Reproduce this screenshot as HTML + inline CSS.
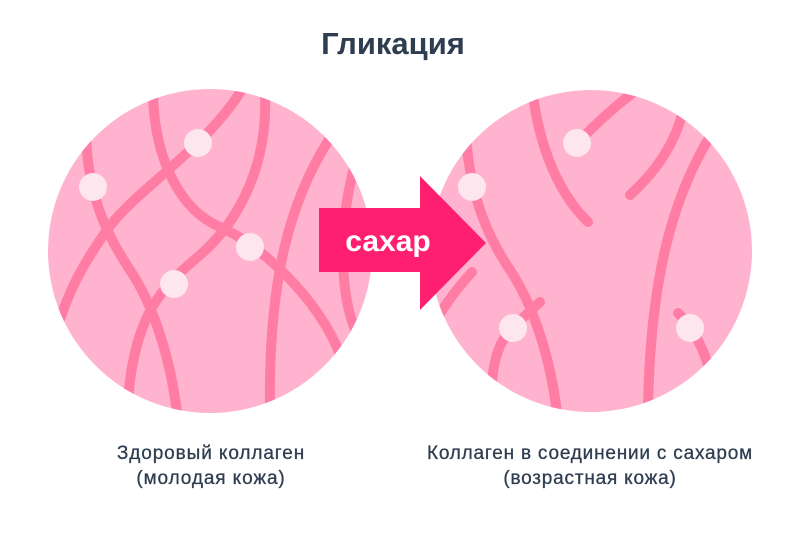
<!DOCTYPE html>
<html><head><meta charset="utf-8"><style>
html,body{margin:0;padding:0;background:#fff}
body{width:800px;height:530px;overflow:hidden}
</style></head><body>
<svg width="800" height="530" viewBox="0 0 800 530" xmlns="http://www.w3.org/2000/svg">
<defs>
<clipPath id="cl"><circle cx="210" cy="251" r="162"/></clipPath>
<clipPath id="cr"><circle cx="591" cy="251" r="161"/></clipPath>
</defs>
<text x="393" y="54" text-anchor="middle" font-family="Liberation Sans, sans-serif" font-weight="bold" font-size="31" fill="#2e3d50">Гликация</text>

<circle cx="210" cy="251" r="162" fill="#ffb3cf"/>
<g clip-path="url(#cl)" fill="none" stroke="#ff7ca4" stroke-width="10" stroke-linecap="round">
<path d="M86,135 C 88,200 110,240 130,270 S 170,350 178,420"/>
<path d="M243,88 C 205,150 135,190 107,230 S 70,290 58,325"/>
<path d="M153,95 C 155,160 180,210 220,227 S 320,300 340,355"/>
<path d="M265,95 C 268,170 235,225 200,255 S 135,310 128,400"/>
<path d="M330,138 C 290,200 268,280 270,410"/>
<path d="M354,168 C 340,220 338,290 356,332"/>
</g>
<g fill="#fde6ee">
<circle cx="93" cy="187" r="14"/><circle cx="198" cy="143" r="14"/><circle cx="250" cy="247" r="14"/><circle cx="174" cy="284" r="14"/>
</g>

<circle cx="591" cy="251" r="161" fill="#ffb3cf"/>
<g clip-path="url(#cr)" fill="none" stroke="#ff7ca4" stroke-width="10" stroke-linecap="round">
<path d="M533,95 C 540,150 560,195 588,222"/>
<path d="M634,92 C 610,110 590,130 577,143"/>
<path d="M682,115 C 672,150 652,175 630,195"/>
<path d="M709,138 C 672,200 650,280 648,410"/>
<path d="M466,135 C 470,200 490,240 510,270 S 550,350 558,420"/>
<path d="M472,272 C 460,285 448,300 436,320"/>
<path d="M540,302 L513,327 C 500,340 493,360 492,385"/>
<path d="M678,313 C 690,325 700,340 708,365"/>
</g>
<g fill="#fde6ee">
<circle cx="577" cy="143" r="14"/><circle cx="472" cy="187" r="14"/><circle cx="513" cy="328" r="14"/><circle cx="690" cy="328" r="14"/>
</g>

<path d="M319,208 L420,208 L420,176 L486,243 L420,310 L420,272 L319,272 Z" fill="#ff1f70"/>
<text x="388" y="251" text-anchor="middle" font-family="Liberation Sans, sans-serif" font-weight="bold" font-size="30" fill="#fff">сахар</text>

<g font-family="Liberation Sans, sans-serif" font-size="19" fill="#2e3d50" text-anchor="middle" stroke="#2e3d50" stroke-width="0.3">
<text x="211" y="459" letter-spacing="0.9">Здоровый коллаген</text>
<text x="211" y="484" letter-spacing="0.9">(молодая кожа)</text>
<text x="590" y="459" letter-spacing="0.8">Коллаген в соединении с сахаром</text>
<text x="590" y="484" letter-spacing="0.8">(возрастная кожа)</text>
</g>
</svg>
</body></html>
